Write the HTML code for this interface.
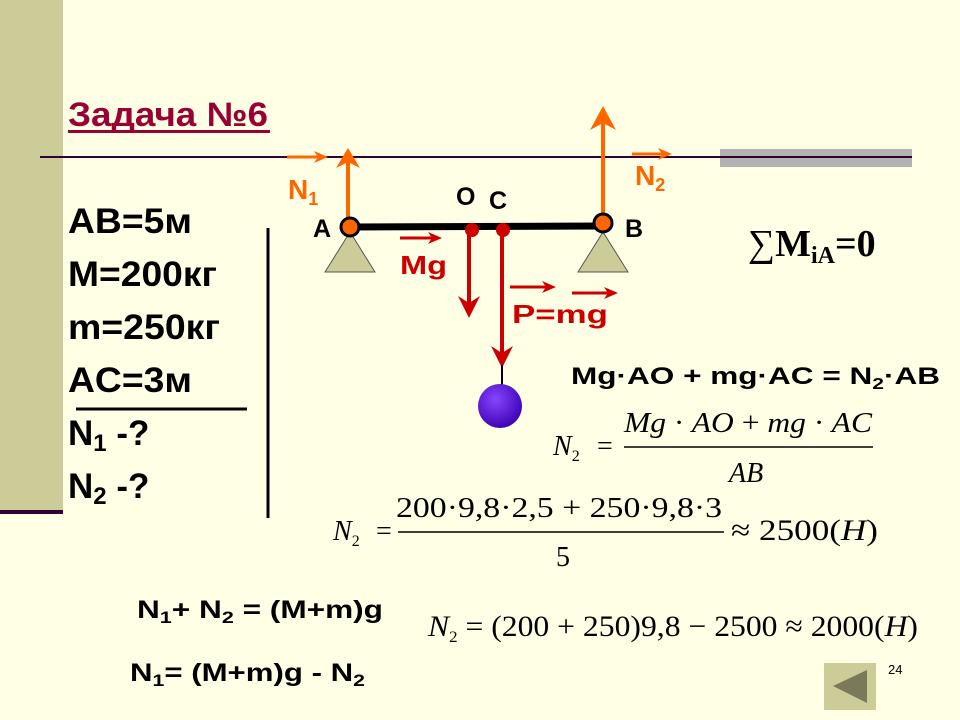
<!DOCTYPE html>
<html><head><meta charset="utf-8"><style>
html,body{margin:0;padding:0;background:#FFFFE5;}
svg{display:block}
.b{font-family:"Liberation Sans",sans-serif;font-weight:bold}
.s{font-family:"Liberation Serif",serif}
</style></head><body>
<svg width="960" height="720" viewBox="0 0 960 720" xmlns="http://www.w3.org/2000/svg">
<defs>
<radialGradient id="ball" cx="0.4" cy="0.35" r="0.7"><stop offset="0" stop-color="#8844FF"/><stop offset="1" stop-color="#3A00B0"/></radialGradient>
</defs>
<rect width="960" height="720" fill="#FFFFE5"/>
<rect x="0" y="0" width="63" height="512" fill="#CCCC99"/>
<rect x="0" y="510" width="63" height="4" fill="#330033"/>
<rect x="720" y="149" width="192" height="18" fill="#B2B2B2"/>
<line x1="40" y1="157" x2="912" y2="157" stroke="#330033" stroke-width="2"/>

<text x="68" y="126" class="b" font-size="34" fill="#990033" textLength="200" lengthAdjust="spacingAndGlyphs">Задача №6</text>
<rect x="68" y="130" width="202" height="3" fill="#990033"/>

<g class="b" font-size="35" fill="#000">
<text x="68" y="233" textLength="124" lengthAdjust="spacingAndGlyphs">AB=5м</text>
<text x="68" y="286" textLength="149" lengthAdjust="spacingAndGlyphs">M=200кг</text>
<text x="68" y="339" textLength="152" lengthAdjust="spacingAndGlyphs">m=250кг</text>
<text x="68" y="392" textLength="124" lengthAdjust="spacingAndGlyphs">AC=3м</text>
<text x="68" y="445">N<tspan font-size="24" dy="6">1</tspan><tspan dy="-6"> -?</tspan></text>
<text x="68" y="498">N<tspan font-size="24" dy="6">2</tspan><tspan dy="-6"> -?</tspan></text>
</g>
<line x1="76" y1="409" x2="247" y2="409" stroke="#000" stroke-width="3"/>
<line x1="268" y1="228" x2="268" y2="518" stroke="#000" stroke-width="3"/>

<polygon points="350,232 325,272 375,272" fill="#CCCC99" stroke="#555" stroke-width="1"/>
<polygon points="603,232 578,272 628,272" fill="#CCCC99" stroke="#555" stroke-width="1"/>
<line x1="350" y1="227" x2="603" y2="226" stroke="#000" stroke-width="7"/>

<line x1="348" y1="227" x2="348" y2="156" stroke="#FF6600" stroke-width="4"/>
<polygon points="348,148 336,168 348,162 360,168" fill="#FF6600"/>
<circle cx="350" cy="227" r="9" fill="#FF6600" stroke="#000" stroke-width="3"/>
<text x="288" y="199" class="b" font-size="28" fill="#FF6600">N<tspan font-size="18" dy="6">1</tspan></text>
<line x1="287" y1="157" x2="322" y2="157" stroke="#FF6600" stroke-width="3"/>
<polygon points="328,157 314,151 318,157 314,163" fill="#FF6600"/>

<line x1="603" y1="227" x2="603" y2="115" stroke="#FF6600" stroke-width="4"/>
<polygon points="603,106 590,130 603,123 616,130" fill="#FF6600"/>
<circle cx="603" cy="223" r="9" fill="#FF6600" stroke="#000" stroke-width="3"/>
<text x="635" y="185" class="b" font-size="28" fill="#FF6600">N<tspan font-size="18" dy="6">2</tspan></text>
<line x1="632" y1="154" x2="666" y2="154" stroke="#FF6600" stroke-width="3"/>
<polygon points="672,154 658,148 662,154 658,160" fill="#FF6600"/>

<g class="b" font-size="25" fill="#000">
<text x="313" y="237">A</text>
<text x="625" y="237">B</text>
<text x="456" y="205">O</text>
<text x="489" y="209">C</text>
</g>

<line x1="469" y1="230" x2="469" y2="308" stroke="#CC0000" stroke-width="4"/>
<polygon points="469,318 458,296 469,303 480,296" fill="#CC0000"/>
<line x1="502" y1="230" x2="502" y2="358" stroke="#CC0000" stroke-width="4"/>
<polygon points="502,368 491,346 502,353 513,346" fill="#CC0000"/>
<line x1="502" y1="365" x2="502" y2="388" stroke="#000" stroke-width="2"/>
<circle cx="472" cy="230" r="7" fill="#CC0000"/>
<circle cx="503" cy="230" r="7" fill="#CC0000"/>
<circle cx="500" cy="406" r="22" fill="url(#ball)"/>

<text x="400" y="274" class="b" font-size="26" fill="#CC0000" textLength="47" lengthAdjust="spacingAndGlyphs">Mg</text>
<line x1="400" y1="238" x2="436" y2="238" stroke="#CC0000" stroke-width="3"/>
<polygon points="442,238 428,232 432,238 428,244" fill="#CC0000"/>
<text x="512" y="323" class="b" font-size="26" fill="#CC0000" textLength="96" lengthAdjust="spacingAndGlyphs">P=mg</text>
<line x1="510" y1="287" x2="550" y2="287" stroke="#CC0000" stroke-width="3"/>
<polygon points="556,287 542,281 546,287 542,293" fill="#CC0000"/>
<line x1="572" y1="293" x2="612" y2="293" stroke="#CC0000" stroke-width="3"/>
<polygon points="618,293 604,287 608,293 604,299" fill="#CC0000"/>

<text x="748" y="256" class="s" font-size="38" font-weight="bold" fill="#000"><tspan font-weight="normal">∑</tspan>M<tspan font-size="24" dy="7">iA</tspan><tspan dy="-7">=0</tspan></text>

<text x="571" y="384" class="b" font-size="24" fill="#000" textLength="369" lengthAdjust="spacingAndGlyphs">Mg·AO + mg·AC = N<tspan font-size="16" dy="5">2</tspan><tspan dy="-5">·AB</tspan></text>

<g class="s" font-size="28" fill="#000">
<text x="553" y="455" font-style="italic">N<tspan font-size="16" dy="6" font-style="normal">2</tspan></text>
<text x="597" y="455">=</text>
<text x="624" y="432" font-style="italic" textLength="248" lengthAdjust="spacingAndGlyphs">Mg <tspan font-style="normal">·</tspan> AO <tspan font-style="normal">+</tspan> mg <tspan font-style="normal">·</tspan> AC</text>
<line x1="624" y1="447" x2="873" y2="447" stroke="#000" stroke-width="1.5"/>
<text x="729" y="482" font-style="italic">AB</text>

<text x="333" y="540" font-style="italic">N<tspan font-size="16" dy="6" font-style="normal">2</tspan></text>
<text x="376" y="540">=</text>
<text x="396" y="517" textLength="326" lengthAdjust="spacingAndGlyphs">200·9,8·2,5 + 250·9,8·3</text>
<line x1="398" y1="532" x2="724" y2="532" stroke="#000" stroke-width="1.5"/>
<text x="556" y="566">5</text>
<text x="731" y="540" font-size="30" textLength="147" lengthAdjust="spacingAndGlyphs">≈ 2500(<tspan font-style="italic">H</tspan>)</text>

<text x="428" y="636" font-size="30" textLength="490" lengthAdjust="spacingAndGlyphs"><tspan font-style="italic">N</tspan><tspan font-size="16" dy="6">2</tspan><tspan dy="-6"> = (200 + 250)9,8 − 2500 ≈ 2000(</tspan><tspan font-style="italic">H</tspan>)</text>
</g>

<g class="b" font-size="25" fill="#000">
<text x="137" y="618" textLength="246" lengthAdjust="spacingAndGlyphs">N<tspan font-size="17" dy="5">1</tspan><tspan dy="-5">+ N</tspan><tspan font-size="17" dy="5">2</tspan><tspan dy="-5"> = (M+m)g</tspan></text>
<text x="130" y="681" textLength="235" lengthAdjust="spacingAndGlyphs">N<tspan font-size="17" dy="5">1</tspan><tspan dy="-5">= (M+m)g - N</tspan><tspan font-size="17" dy="5">2</tspan></text>
</g>

<rect x="824" y="663" width="52" height="47" fill="#CCCC99"/>
<polygon points="833,686 867,670 867,703" fill="#7A7A5A"/>
<text x="888" y="674" font-family="Liberation Sans,sans-serif" font-size="13" fill="#000">24</text>
</svg>
</body></html>
